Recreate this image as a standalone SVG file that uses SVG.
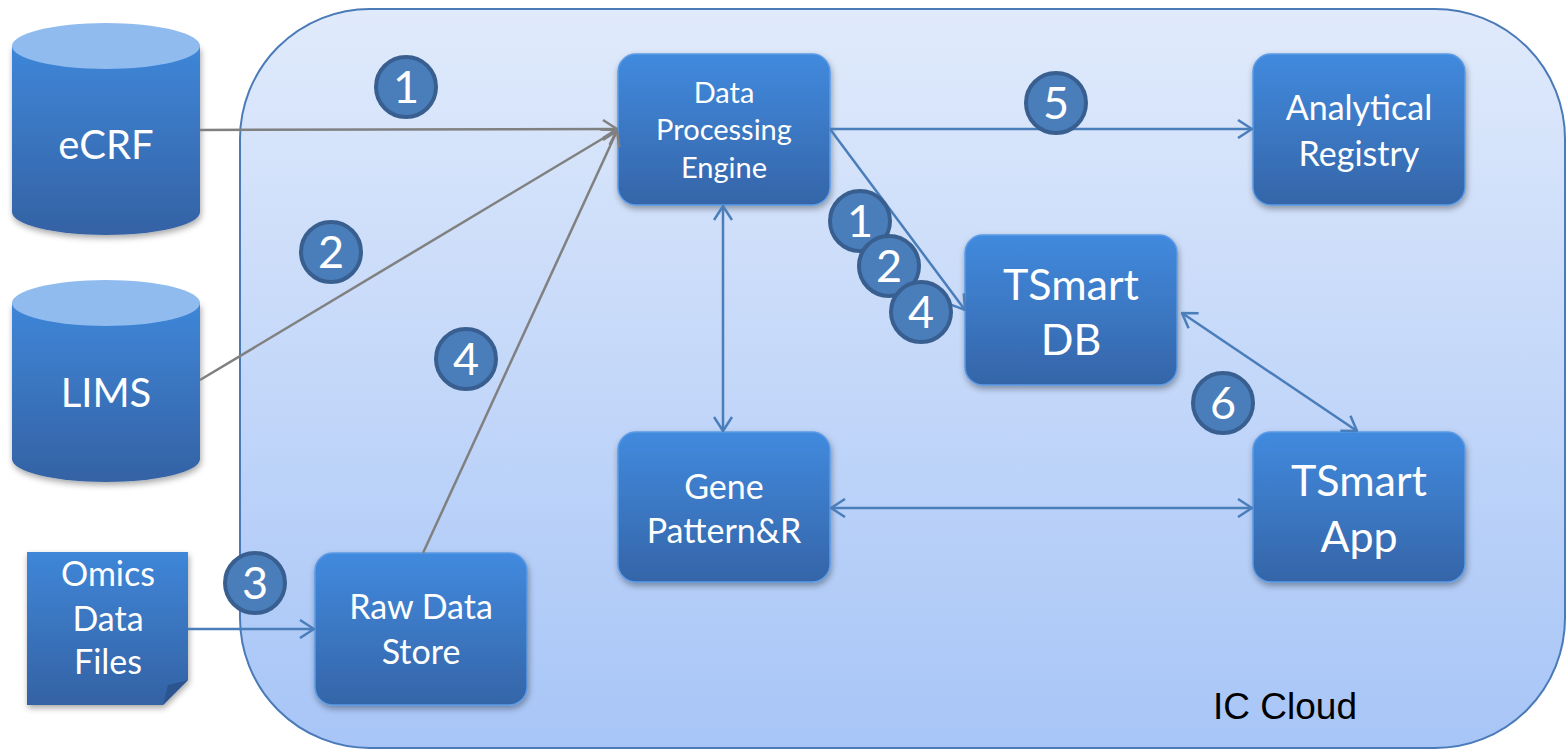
<svg xmlns="http://www.w3.org/2000/svg" width="1568" height="750" viewBox="0 0 1568 750">
<defs>
<linearGradient id="cloudg" x1="0" y1="0" x2="0" y2="1">
<stop offset="0" stop-color="#e0eafb"/>
<stop offset="1" stop-color="#a7c5f7"/>
</linearGradient>
<linearGradient id="boxg" x1="0" y1="0" x2="0" y2="1">
<stop offset="0" stop-color="#418ade"/>
<stop offset="1" stop-color="#3565a8"/>
</linearGradient>
<linearGradient id="cylg" x1="0" y1="0" x2="0" y2="1">
<stop offset="0" stop-color="#3f86d8"/>
<stop offset="1" stop-color="#3462a4"/>
</linearGradient>
<filter id="shadow" x="-10%" y="-10%" width="125%" height="130%">
<feDropShadow dx="1" dy="3" stdDeviation="3" flood-color="#000" flood-opacity="0.35"/>
</filter>
<marker id="arrg" viewBox="0 0 20 20" refX="19" refY="10" markerWidth="20" markerHeight="20" markerUnits="userSpaceOnUse" orient="auto">
<path d="M5,1 L19,10 L5,19" fill="none" stroke="#808080" stroke-width="2.5"/>
</marker>
<marker id="arrb" viewBox="0 0 20 20" refX="19" refY="10" markerWidth="20" markerHeight="20" markerUnits="userSpaceOnUse" orient="auto-start-reverse">
<path d="M5,1 L19,10 L5,19" fill="none" stroke="#4a7ebb" stroke-width="2.5"/>
</marker>
</defs>
<style>
.box{fill:url(#boxg);stroke:#5a9ae6;stroke-width:1.5;filter:url(#shadow)}
.cyl{fill:url(#cylg);filter:url(#shadow)}
.cyltop{fill:#8fbbee}
.t{font-family:Lato,"Liberation Sans",sans-serif;fill:#ffffff;text-anchor:middle}
.num{fill:#4a7ebb;stroke:#385f8f;stroke-width:4}
.numt{font-family:Lato,"Liberation Sans",sans-serif;fill:#ffffff;text-anchor:middle;font-size:45px}
.gray{stroke:#808080;stroke-width:2.5;fill:none;marker-end:url(#arrg)}
.blue{stroke:#4a7ebb;stroke-width:2.5;fill:none;marker-end:url(#arrb)}
.both{marker-start:url(#arrb)}
</style>

<g id="ic-cloud">
<rect x="240" y="9" width="1325" height="739" rx="130" ry="130" fill="url(#cloudg)" stroke="#4a7ab8" stroke-width="2"/>
<text x="1213" y="719" font-family="'Liberation Sans',Arial,sans-serif" font-size="37" fill="#000">IC Cloud</text>
</g>

<g id="ecrf">
<path class="cyl" d="M12,46 V212 A94,23 0 0 0 200,212 V46 Z"/>
<ellipse class="cyltop" cx="106" cy="46" rx="94" ry="23"/>
<text class="t" x="106" y="159" font-size="40">eCRF</text>
</g>

<g id="lims">
<path class="cyl" d="M12,303 V459 A94,23 0 0 0 200,459 V303 Z"/>
<ellipse class="cyltop" cx="106" cy="303" rx="94" ry="23"/>
<text class="t" x="106" y="407" font-size="40">LIMS</text>
</g>

<g id="omics">
<path d="M27,552 H188 V680 L163,705 H27 Z" fill="url(#cylg)" filter="url(#shadow)"/>
<path d="M188,680 L163,705 L168,685 Z" fill="#2c5590"/>
<text class="t" x="108" y="586" font-size="34">Omics</text>
<text class="t" x="108" y="631" font-size="34">Data</text>
<text class="t" x="108" y="674" font-size="34">Files</text>
</g>

<g id="dpe">
<rect class="box" x="618" y="54" width="212" height="151" rx="18"/>
<text class="t" x="724" y="103" font-size="29">Data</text>
<text class="t" x="724" y="140" font-size="29">Processing</text>
<text class="t" x="724" y="178" font-size="29">Engine</text>
</g>

<g id="analytical-registry">
<rect class="box" x="1253" y="54" width="212" height="151" rx="18"/>
<text class="t" x="1359" y="120" font-size="34">Analytical</text>
<text class="t" x="1359" y="166" font-size="34">Registry</text>
</g>

<g id="tsmart-db">
<rect class="box" x="965" y="235" width="212" height="150" rx="18"/>
<text class="t" x="1071" y="300" font-size="43">TSmart</text>
<text class="t" x="1071" y="355" font-size="43">DB</text>
</g>

<g id="gene-pattern">
<rect class="box" x="618" y="432" width="212" height="150" rx="18"/>
<text class="t" x="724" y="499" font-size="34">Gene</text>
<text class="t" x="724" y="543" font-size="34">Pattern&amp;R</text>
</g>

<g id="tsmart-app">
<rect class="box" x="1253" y="432" width="212" height="150" rx="18"/>
<text class="t" x="1359" y="496" font-size="43">TSmart</text>
<text class="t" x="1359" y="552" font-size="43">App</text>
</g>

<g id="raw-data-store">
<rect class="box" x="315" y="553" width="212" height="152" rx="18"/>
<text class="t" x="421" y="619" font-size="34">Raw Data</text>
<text class="t" x="421" y="664" font-size="34">Store</text>
</g>

<g id="connectors">
<line class="gray" x1="200" y1="130" x2="617" y2="129"/>
<line class="gray" x1="200" y1="380" x2="617" y2="130"/>
<line class="gray" x1="423" y1="553" x2="617" y2="131"/>
<line class="blue" x1="830" y1="129" x2="1252" y2="129"/>
<line class="blue" x1="830" y1="129" x2="965" y2="310"/>
<line class="blue both" x1="723" y1="206" x2="723" y2="431"/>
<line class="blue both" x1="831" y1="508" x2="1252" y2="508"/>
<line class="blue both" x1="1182" y1="313" x2="1357" y2="431"/>
<line class="blue" x1="188" y1="629" x2="314" y2="629"/>
</g>

<g id="step-labels">
<circle class="num" cx="406" cy="87" r="30"/><text class="numt" x="406" y="103">1</text>
<circle class="num" cx="331" cy="252" r="30"/><text class="numt" x="331" y="268">2</text>
<circle class="num" cx="466" cy="359" r="30"/><text class="numt" x="466" y="375">4</text>
<circle class="num" cx="1056" cy="103" r="30"/><text class="numt" x="1056" y="119">5</text>
<circle class="num" cx="860" cy="221" r="30"/><text class="numt" x="860" y="237">1</text>
<circle class="num" cx="889" cy="266" r="30"/><text class="numt" x="889" y="282">2</text>
<circle class="num" cx="921" cy="312" r="30"/><text class="numt" x="921" y="328">4</text>
<circle class="num" cx="1223" cy="403" r="30"/><text class="numt" x="1223" y="419">6</text>
<circle class="num" cx="255" cy="583" r="30"/><text class="numt" x="255" y="599">3</text>
</g>
</svg>
